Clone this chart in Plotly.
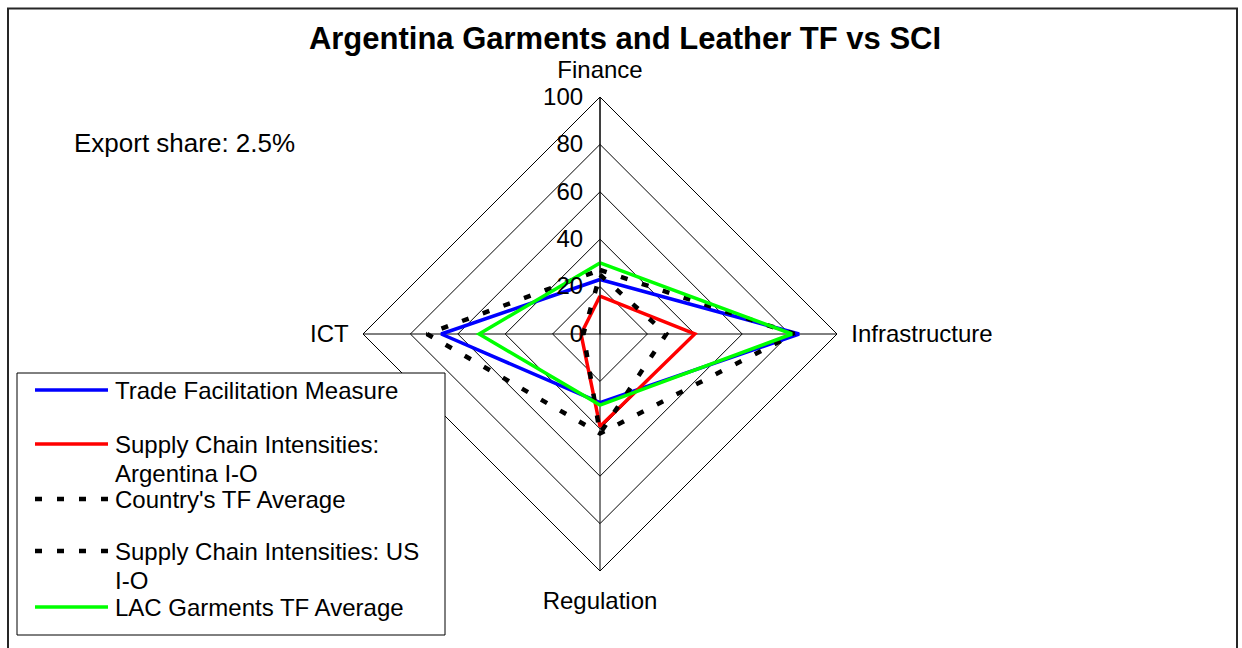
import plotly.graph_objects as go

categories = ["Finance", "Infrastructure", "Regulation", "ICT"]
tf_measure = [23, 84, 29, 67]
sci_argentina = [16, 40, 39, 8]
country_tf_avg = [27, 82, 42, 73]
sci_us = [25, 28, 42, 7]
lac_tf_avg = [30, 81, 30, 51]
radial_ticks = [0, 20, 40, 60, 80, 100]

series_names = [
    "Trade Facilitation Measure",
    "Supply Chain Intensities: Argentina I-O",
    "Country's TF Average",
    "Supply Chain Intensities: US I-O",
    "LAC Garments TF Average",
]
legend_lines = [
    ["Trade Facilitation Measure"],
    ["Supply Chain Intensities:", "Argentina I-O"],
    ["Country's TF Average"],
    ["Supply Chain Intensities: US", "I-O"],
    ["LAC Garments TF Average"],
]

W, H = 1242, 648
FONT = "Arial, 'Liberation Sans', sans-serif"
CLEAR = "rgba(0,0,0,0)"


def closed(vals):
    return list(vals) + [vals[0]]


theta = closed(categories)

fig = go.Figure()
styles = [
    (tf_measure, dict(color="#0000FF", width=3.5)),
    (sci_argentina, dict(color="#FF0000", width=3.5)),
    (country_tf_avg, dict(color="black", width=4.5, dash="7px,15px")),
    (sci_us, dict(color="black", width=4.5, dash="7px,15px")),
    (lac_tf_avg, dict(color="#00FF00", width=3.5)),
]
for name, (vals, line) in zip(series_names, styles):
    fig.add_trace(go.Scatterpolar(r=closed(vals), theta=theta, mode="lines",
                                  name=name, line=line, showlegend=False))

# hand-drawn legend box (Excel style: fixed row pitch, wrapped labels)
shapes = [
    dict(type="rect", xref="paper", yref="paper",
         x0=8 / W, x1=1237 / W, y0=-0.1, y1=1 - 8.5 / H,
         line=dict(color="#262626", width=2)),
    dict(type="rect", xref="paper", yref="paper",
         x0=17 / W, x1=445 / W, y0=1 - 635 / H, y1=1 - 373 / H,
         line=dict(color="black", width=1), fillcolor="white", layer="above"),
]
annotations = [
    dict(text="Export share: 2.5%", x=184 / W, y=1 - 143 / H,
         xref="paper", yref="paper", showarrow=False,
         xanchor="center", yanchor="middle", font=dict(size=26)),
]
row_y = [390, 444, 499, 551, 607]
for (vals, line), lines, y in zip(styles, legend_lines, row_y):
    shapes.append(dict(type="line", xref="paper", yref="paper",
                       x0=35 / W, x1=108 / W, y0=1 - y / H, y1=1 - y / H,
                       line=line, layer="above"))
    for k, txt in enumerate(lines):
        annotations.append(dict(text=txt, x=113 / W, y=1 - (y + 29 * k) / H,
                                xref="paper", yref="paper", showarrow=False,
                                xanchor="left", yanchor="middle",
                                font=dict(size=24)))

cx, cy, R = 600, 334, 237
fig.update_layout(
    width=W, height=H,
    margin=dict(l=0, r=0, t=0, b=0),
    paper_bgcolor="white",
    showlegend=False,
    font=dict(family=FONT, size=24, color="black"),
    title=dict(text="<b>Argentina Garments and Leather TF vs SCI</b>",
               x=625 / W, y=1 - 38 / H, xanchor="center", yanchor="middle",
               font=dict(size=31, color="black", family=FONT)),
    polar=dict(
        domain=dict(x=[(cx - R) / W, (cx + R) / W],
                    y=[1 - (cy + R) / H, 1 - (cy - R) / H]),
        gridshape="linear",
        bgcolor="white",
        radialaxis=dict(range=[0, 100], tickvals=radial_ticks, angle=90,
                        tickangle=90,
                        side="counterclockwise", showline=True,
                        linecolor="black", linewidth=1, gridcolor="black",
                        gridwidth=1, ticks="outside", ticklen=8,
                        tickcolor=CLEAR, tickfont=dict(size=24)),
        angularaxis=dict(rotation=90, direction="clockwise", showline=True,
                         linecolor="black", linewidth=1, gridcolor="black",
                         gridwidth=1, ticks="outside", ticklen=9,
                         tickcolor=CLEAR, tickfont=dict(size=24)),
    ),
    annotations=annotations,
    shapes=shapes,
)

fig.write_html("out.html", config={"displayModeBar": False},
               post_script="document.body.style.margin='0';")
